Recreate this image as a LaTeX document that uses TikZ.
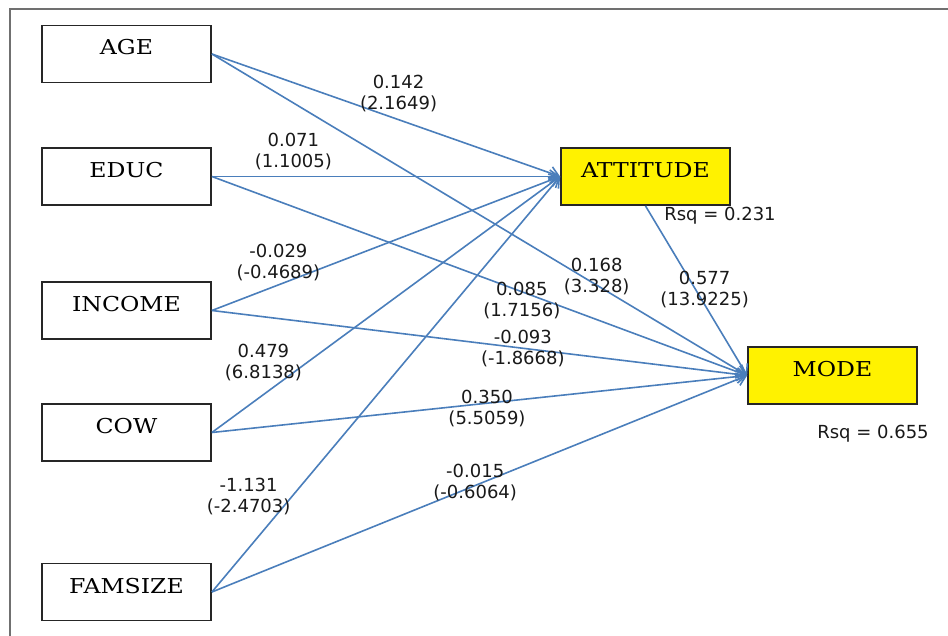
\documentclass[tikz,border=0pt]{standalone}
\usepackage{fontspec}
\newfontfamily\boxfont[FakeStretch=1.15]{DejaVu Serif}
\newfontfamily\coeffont{DejaVu Sans}
\usetikzlibrary{arrows.meta}
\definecolor{pathBlue}{HTML}{4A7EBB}
\definecolor{frameGray}{HTML}{707070}
\tikzset{%
  >={Straight Barb[length=9pt,width=13pt]},
  % Specifications for style of nodes:
          varBox/.style = {rectangle, draw=black!85, line width=1.8pt,
                           minimum width=169pt, minimum height=57pt,
                           text height=15pt, text depth=13pt,
                           font=\boxfont\fontsize{20.5}{24}\selectfont},
       exogenous/.style = {varBox, fill=white},
      endogenous/.style = {varBox, fill=yellow},
            coef/.style = {align=center, inner sep=0pt, text=black!90,
                           font=\coeffont\fontsize{18}{21}\selectfont},
             rsq/.style = {coef},
            link/.style = {->, draw=pathBlue, line width=1.6pt},
}

\begin{document}
\begin{tikzpicture}[x=1pt, y=-1pt]
  \useasboundingbox (0,0) rectangle (948,636);
  \draw[frameGray, line width=1.6pt] (948,9) -- (10,9) -- (10,636);

  % Specification of nodes (position, etc.)
  \node (age)          [exogenous]  at (126.5,54)    {AGE};
  \node (educ)         [exogenous]  at (126.5,176.5) {EDUC};
  \node (income)       [exogenous]  at (126.5,310.5) {INCOME};
  \node (cow)          [exogenous]  at (126.5,432.5) {COW};
  \node (famsize)      [exogenous]  at (126.5,592)   {FAMSIZE};

  \node (attitude)     [endogenous] at (645.5,176.5) {ATTITUDE};
  \node (mode)         [endogenous] at (832.5,375.5) {MODE};

  \node (rsq_attitude) [rsq]        at (720,216)     {Rsq = 0.231};
  \node (rsq_mode)     [rsq]        at (873,434)     {Rsq = 0.655};

  % Specification of paths between nodes specified above
  % with coefficients (t-values) as descriptions
  \draw[link]     (age.east) -- node[coef, pos=.536, yshift=26.6pt] {0.142\\(2.1649)}   (attitude.west);
  \draw[link]    (educ.east) -- node[coef, pos=.234, yshift=24.5pt] {0.071\\(1.1005)}   (attitude.west);
  \draw[link]  (income.east) -- node[coef, pos=.191, yshift=22pt]   {-0.029\\(-0.4689)} (attitude.west);
  \draw[link]     (cow.east) -- node[coef, pos=.148, yshift=32.6pt] {0.479\\(6.8138)}   (attitude.west);
  \draw[link] (famsize.east) -- node[coef, pos=.229, xshift=-43pt]  {-1.131\\(-2.4703)} (attitude.west);

  \draw[link]     (age.east) -- node[coef, pos=.719, yshift=9pt]    {0.168\\(3.328)}    (mode.west);
  \draw[link]    (educ.east) -- node[coef, pos=.579, yshift=-9pt]   {0.085\\(1.7156)}   (mode.west);
  \draw[link]  (income.east) -- node[coef, pos=.581]                {-0.093\\(-1.8668)} (mode.west);
  \draw[link]     (cow.east) -- node[coef, pos=.514, yshift=-5pt]   {0.350\\(5.5059)}   (mode.west);
  \draw[link] (famsize.east) -- node[coef, pos=.492, yshift=2.5pt]  {-0.015\\(-0.6064)} (mode.west);

  \draw[link] (attitude.south) -- node[coef, pos=.493, xshift=9pt] {0.577\\(13.9225)} (mode.west);
\end{tikzpicture}
\end{document}
